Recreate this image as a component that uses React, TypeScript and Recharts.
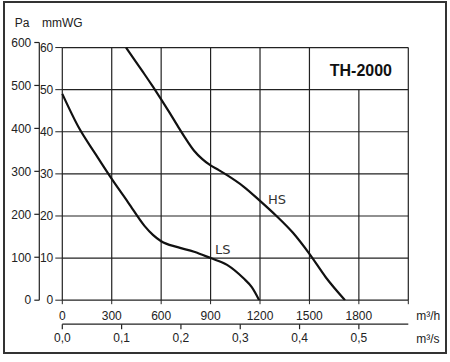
import { LineChart, Line, XAxis, YAxis, CartesianGrid, ReferenceLine, ReferenceArea, ReferenceDot, Label } from "recharts";

// air flow (m³/h) and static pressure (mmWG)
const lsFlow = [0, 100, 200, 300, 400, 500, 550, 600, 700, 800, 900, 1000, 1100, 1150, 1195];
const lsMmwg = [49, 41, 34.8, 28.8, 23.2, 17.6, 15.5, 14.0, 12.6, 11.5, 10.0, 8.4, 5.2, 3.1, 0];
const hsFlow = [387, 450, 500, 550, 600, 650, 700, 750, 800, 850, 900, 950, 1000, 1100, 1200, 1300, 1400, 1500, 1600, 1716];
const hsMmwg = [60, 56.4, 53.6, 50.7, 47.7, 44.6, 41.4, 38.3, 35.5, 33.5, 32.0, 30.9, 29.7, 27.0, 23.6, 20.0, 16.0, 11.0, 5.4, 0];

const flowTicks = [0, 300, 600, 900, 1200, 1500, 1800, 2100];
const flowLabels = ["0", "300", "600", "900", "1200", "1500", "1800", ""];
const secTicks = [0, 0.1, 0.2, 0.3, 0.4, 0.5];
const secLabels = ["0,0", "0,1", "0,2", "0,3", "0,4", "0,5"];
const mmTicks = [0, 10, 20, 30, 40, 50, 60];
const paTicks = [0, 100, 200, 300, 400, 500, 600];
const title = "TH-2000";

const FONT = "'Liberation Sans Narrow', 'Liberation Sans', Arial, sans-serif";
const INK = "#222";
const PA_PER_MM = 9.80665;

const lsData = lsFlow.map((q, i) => ({ q, mm: lsMmwg[i] }));
const hsData = hsFlow.map((q, i) => ({ q, mm: hsMmwg[i] }));
// same HS curve in SI units, only to drive the m³/s and Pa axes
const hsSiData = hsFlow.map((q, i) => ({ s: q / 3600, pa: hsMmwg[i] * PA_PER_MM }));

export default function App() {
  return (
    <div style={{ position: "absolute", left: 0, top: 0, width: 450, height: 362, background: "#fff", fontFamily: FONT }}>
      <div
        style={{
          position: "absolute",
          left: 3,
          top: 1,
          width: 444,
          height: 353,
          border: "2px solid #333",
          boxSizing: "border-box",
        }}
      />
      <div style={{ position: "absolute", left: 0, top: 0 }}>
        <LineChart width={450} height={362} margin={{ top: 42.5, right: 41.7, bottom: 8.2, left: 0 }}>
          <XAxis
            xAxisId="h"
            type="number"
            dataKey="q"
            domain={[0, 2100]}
            ticks={flowTicks}
            tickFormatter={(v: number) => flowLabels[flowTicks.indexOf(v)] ?? ""}
            height={24}
            axisLine={false}
            tickSize={4}
            tickMargin={7.5}
            tickLine={{ stroke: INK }}
            tick={{ fontSize: 12, fill: INK }}
          >
            <Label value="m³/h" position="right" offset={8} dy={3.6} fontSize={12} fill={INK} />
          </XAxis>
          <XAxis
            xAxisId="s"
            type="number"
            dataKey="s"
            domain={[0, 2100 / 3600]}
            allowDataOverflow
            ticks={secTicks}
            tickFormatter={(v: number) => secLabels[secTicks.indexOf(v)] ?? ""}
            height={29.6}
            axisLine={{ stroke: INK, strokeWidth: 1.2 }}
            tickSize={5}
            tickMargin={4}
            tickLine={{ stroke: INK, strokeWidth: 1.2 }}
            tick={{ fontSize: 12, fill: INK }}
          >
            <Label value="m³/s" position="right" offset={8} fontSize={12} fill={INK} />
          </XAxis>
          <YAxis
            yAxisId="mm"
            type="number"
            domain={[0, 61.2]}
            allowDataOverflow
            ticks={mmTicks}
            width={23}
            axisLine={false}
            tickSize={7}
            tickMargin={2}
            tickLine={{ stroke: INK }}
            tick={{ fontSize: 12, fill: INK }}
          >
            <Label value="mmWG" position="top" offset={15.5} dx={11.5} fontSize={12} fill={INK} />
          </YAxis>
          <YAxis
            yAxisId="pa"
            type="number"
            dataKey="pa"
            domain={[0, 600]}
            allowDataOverflow
            ticks={paTicks}
            width={39.3}
            axisLine={{ stroke: INK, strokeWidth: 1.2 }}
            tickSize={5}
            tickMargin={3}
            tickLine={{ stroke: INK, strokeWidth: 1.2 }}
            tick={{ fontSize: 12, fill: INK }}
          >
            <Label value="Pa" position="top" offset={15.5} dx={2.5} fontSize={12} fill={INK} />
          </YAxis>
          <CartesianGrid xAxisId="h" yAxisId="mm" vertical={false} horizontalValues={mmTicks} stroke={INK} strokeWidth={1.2} />
          {flowTicks.map((x) => (
            <ReferenceLine
              key={x}
              xAxisId="h"
              yAxisId="mm"
              segment={[
                { x, y: 0 },
                { x, y: x === 1800 ? 50 : 60 },
              ]}
              stroke={INK}
              strokeWidth={1.2}
            />
          ))}
          <ReferenceArea
            xAxisId="h"
            yAxisId="mm"
            x1={1500}
            x2={2100}
            y1={50}
            y2={60}
            fill="none"
            stroke="none"
            label={{ value: title, position: "center", fontSize: 16, fontWeight: "bold", fill: "#111", dx: 2, dy: 2 }}
          />
          <Line
            xAxisId="s"
            yAxisId="pa"
            data={hsSiData}
            dataKey="pa"
            type="monotone"
            stroke="transparent"
            dot={false}
            activeDot={false}
            legendType="none"
            isAnimationActive={false}
          />
          <Line
            xAxisId="h"
            yAxisId="mm"
            data={lsData}
            dataKey="mm"
            type="monotone"
            stroke="#111"
            strokeWidth={2.2}
            dot={false}
            isAnimationActive={false}
          />
          <Line
            xAxisId="h"
            yAxisId="mm"
            data={hsData}
            dataKey="mm"
            type="monotone"
            stroke="#111"
            strokeWidth={2.2}
            dot={false}
            isAnimationActive={false}
          />
          <ReferenceDot
            xAxisId="h"
            yAxisId="mm"
            x={927}
            y={12}
            r={0}
            fill="none"
            stroke="none"
            label={{ value: "LS", position: "right", offset: 0, fontSize: 13, fill: "#333", fontFamily: "'DejaVu Sans', sans-serif" }}
          />
          <ReferenceDot
            xAxisId="h"
            yAxisId="mm"
            x={1248}
            y={24}
            r={0}
            fill="none"
            stroke="none"
            label={{ value: "HS", position: "right", offset: 0, fontSize: 13, fill: "#333", fontFamily: "'DejaVu Sans', sans-serif" }}
          />
        </LineChart>
      </div>
    </div>
  );
}
